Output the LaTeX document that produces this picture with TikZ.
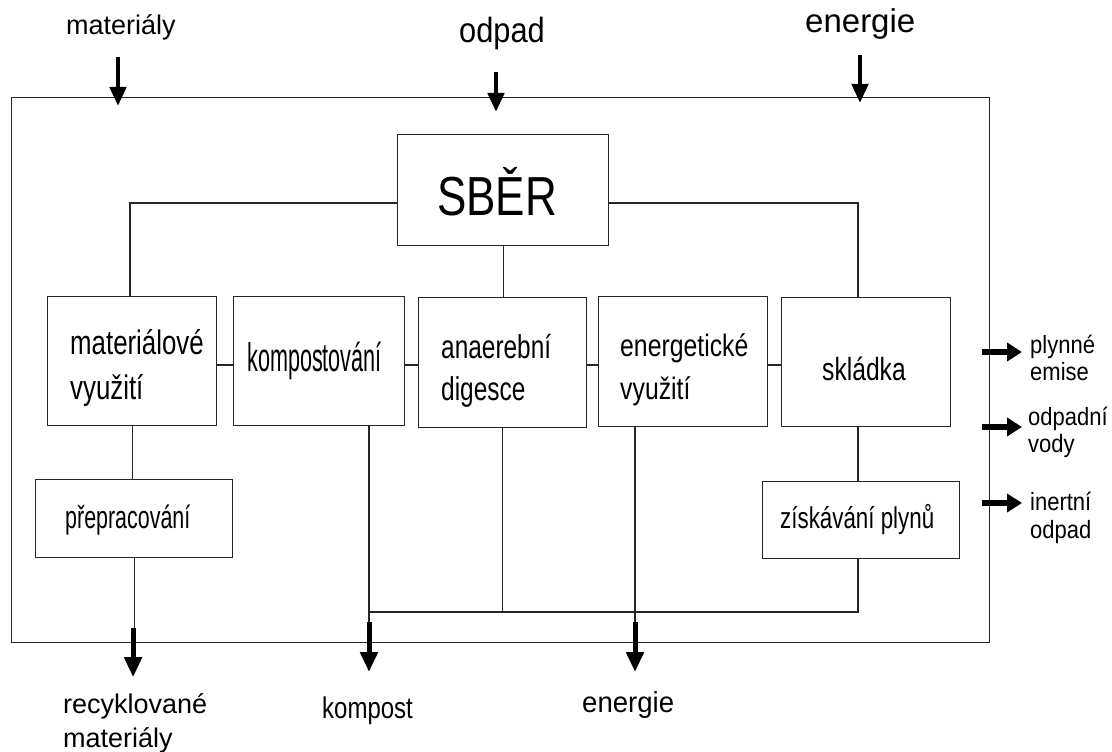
\documentclass[tikz,border=0pt]{standalone}
\usepackage{graphicx}
\usepackage{fontspec}
\setmainfont{Liberation Sans}
\usetikzlibrary{arrows.meta,calc}
\newcommand{\lbl}[3]{\scalebox{#2}[1]{\fontsize{#1pt}{#1pt}\selectfont #3}}
\begin{document}
\begin{tikzpicture}[x=1pt,y=-1pt,
  box/.style={draw=black!85, line width=1.2pt, inner sep=0pt, anchor=north west},
  ln/.style={draw=black!85, line width=1.2pt},
  txt/.style={inner sep=0pt, anchor=base west, text=black},
  downarrow/.style={draw=black, line width=4.5pt, -{Triangle[length=19pt,width=16pt]}},
  outarrow/.style={draw=black, line width=5pt, -{Triangle[length=20pt,width=17pt]}},
  sidearrow/.style={draw=black, line width=6pt, -{Triangle[length=15pt,width=18pt]}},
]
\useasboundingbox (0,0) rectangle (1112,752);
\fill[white] (0,0) rectangle (1112,752);

% frame and boxes
\node[box, minimum width=978pt, minimum height=545pt] (frame) at (11,97) {};
\node[box, minimum width=211pt, minimum height=111pt] (sber) at (397,134) {};
\node[box, minimum width=169pt, minimum height=129pt] (mv) at (47,296) {};
\node[box, minimum width=171pt, minimum height=129pt] (ko) at (233,296) {};
\node[box, minimum width=168pt, minimum height=130pt] (ad) at (418,297) {};
\node[box, minimum width=169pt, minimum height=130pt] (ev) at (598,296) {};
\node[box, minimum width=169pt, minimum height=129pt] (sk) at (781,297) {};
\node[box, minimum width=197pt, minimum height=78pt] (pp) at (35,479) {};
\node[box, minimum width=197pt, minimum height=77pt] (zp) at (762,481) {};

% helper coordinates
\coordinate (busy) at (0,203);
\coordinate (hy) at (0,365);
\coordinate (mvx) at (130,0);
\coordinate (skx) at (858,0);
\coordinate (kbus) at (369,612);
\coordinate (ex) at (635,0);

% texts inside boxes
\node[anchor=base, inner sep=0pt] (tsber) at (497,215) {\lbl{55}{0.8}{SBĚR}};
\node[txt] (tmv1) at (70,354) {\lbl{34}{0.76}{materiálové}};
\node[txt] (tmv2) at (70,399) {\lbl{34}{0.76}{využití}};
\node[txt] (tko) at (247,371) {\lbl{40}{0.54}{kompostování}};
\node[txt] (tad1) at (441,358) {\lbl{33}{0.74}{anaerební}};
\node[txt] (tad2) at (441,400) {\lbl{33}{0.74}{digesce}};
\node[txt] (tev1) at (620,356) {\lbl{31}{0.8}{energetické}};
\node[txt] (tev2) at (620,399) {\lbl{31}{0.8}{využití}};
\node[txt] (tsk) at (822,380) {\lbl{32}{0.77}{skládka}};
\node[txt] (tpp) at (65,528) {\lbl{32}{0.67}{přepracování}};
\node[txt] (tzp) at (780,528) {\lbl{30}{0.745}{získávání plynů}};

% outside labels
\node[txt] (inmat) at (66,35) {\lbl{27}{1}{materiály}};
\node[txt] (inodp) at (459,43) {\lbl{35}{0.88}{odpad}};
\node[txt] (inen) at (805,33) {\lbl{33}{1}{energie}};
\node[txt] (ople1) at (1030,353) {\lbl{25}{0.88}{plynné}};
\node[txt] (ople2) at (1030,380) {\lbl{25}{0.88}{emise}};
\node[txt] (oodv1) at (1028,425) {\lbl{25}{0.88}{odpadní}};
\node[txt] (oodv2) at (1028,452) {\lbl{25}{0.88}{vody}};
\node[txt] (oino1) at (1030,510) {\lbl{25}{0.88}{inertní}};
\node[txt] (oino2) at (1030,538) {\lbl{25}{0.88}{odpad}};
\node[txt] (orec1) at (63,713) {\lbl{27}{1}{recyklované}};
\node[txt] (orec2) at (63,747) {\lbl{27}{1}{materiály}};
\node[txt] (okom) at (322,718) {\lbl{30}{0.8}{kompost}};
\node[txt] (oen) at (582,712) {\lbl{29}{0.95}{energie}};

% SBĚR connections
\draw[ln] (sber.west |- busy) -| (mvx |- mv.north);
\draw[ln] (sber.east |- busy) -| (skx |- sk.north);
\draw[ln] (sber.south) -- (sber.south |- ad.north);

% row connectors
\draw[ln] (mv.east |- hy) -- (ko.west |- hy);
\draw[ln] (ko.east |- hy) -- (ad.west |- hy);
\draw[ln] (ad.east |- hy) -- (ev.west |- hy);
\draw[ln] (ev.east |- hy) -- (sk.west |- hy);

% lower connections
\draw[ln] (mv.south) -- (mv.south |- pp.north);
\draw[ln] (skx |- sk.south) -- (skx |- zp.north);
\draw[ln] (kbus |- ko.south) -- (kbus);
\draw[ln] (ad.south) -- (ad.south |- kbus);
\draw[ln] (kbus) -- (skx |- kbus) -- (skx |- zp.south);
\draw[ln] (ex |- ev.south) -- (635,623);
\draw[ln] (pp.south) -- ($(pp.south)+(0,71)$);
\draw[ln] (kbus) -- (369,622);

% input arrows
\coordinate (a1s) at (118,57);  \coordinate (a1e) at (118,106);
\coordinate (a2s) at (496,72);  \coordinate (a2e) at (496,112);
\coordinate (a3s) at (860,55);  \coordinate (a3e) at (860,103);
\draw[downarrow] (a1s) -- (a1e);
\draw[downarrow] (a2s) -- (a2e);
\draw[downarrow] (a3s) -- (a3e);

% output arrows bottom
\draw[outarrow] ($(pp.south)+(-1,70)$) -- ($(pp.south)+(-1,119)$);
\draw[outarrow] (369,622) -- (369,672);
\draw[outarrow] (635,622) -- (635,672);

% side arrows
\draw[sidearrow] (982,352) -- (1022,352);
\draw[sidearrow] (982,427) -- (1022,427);
\draw[sidearrow] (982,503) -- (1022,503);
\end{tikzpicture}
\end{document}
